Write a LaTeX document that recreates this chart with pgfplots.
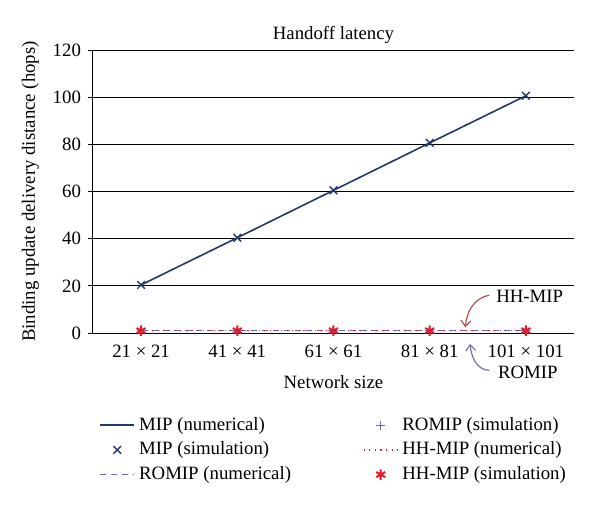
\documentclass[border=0pt]{standalone}
\usepackage{pgfplots}
\pgfplotsset{compat=1.18}
\usepackage{fontspec}
\setmainfont{Liberation Serif}
\usetikzlibrary{arrows.meta}
\definecolor{mipblue}{RGB}{34,58,102}
\definecolor{romip}{RGB}{112,106,160}
\definecolor{hhred}{RGB}{228,26,44}
\definecolor{arrred}{RGB}{178,84,84}
\definecolor{arrpur}{RGB}{122,112,170}
\newcommand\cf{\fontsize{9.4}{11.3}\selectfont}

\begin{document}
\begin{tikzpicture}
\path (-46.5pt,-86pt) rectangle (253.5pt,166.5pt);
\begin{axis}[
 scale only axis,
 width=240.5pt, height=141.5pt,
 xmin=-0.5, xmax=4.5,
 ymin=0, ymax=120,
 axis lines*=left,
 axis line style={black, line width=0.5pt},
 xtick={0,1,2,3,4},
 xticklabels={21 × 21, 41 × 41, 61 × 61, 81 × 81, 101 × 101},
 x tick style={draw=none},
 ytick={0,20,40,60,80,100,120},
 tick align=outside,
 major tick length=2.5pt,
 y tick style={black, line width=0.5pt},
 ymajorgrids,
 major grid style={black, line width=0.5pt},
 /pgf/number format/assume math mode=true,
 tick label style={font=\cf},
 label style={font=\cf},
 xlabel style={yshift=-2pt},
 title style={font=\cf, yshift=-6.5pt},
 title={Handoff latency},
 xlabel={Network size},
 ylabel={Binding update delivery distance (hops)},
 clip=false,
 legend columns=3,
 transpose legend,
 legend cell align={left},
 legend style={draw=none, fill=none, font=\cf, at={(axis description cs:0,-0.268)}, anchor=north west,
   row sep=0.3pt, /tikz/every even column/.append style={column sep=34pt}},
]
\addplot[mipblue, line width=0.8pt] coordinates {(0,20.4) (1,40.4) (2,60.5) (3,80.6) (4,100.6)};
\addlegendentry{MIP (numerical)}
\addplot[only marks, mark=x, mipblue, mark size=2.7pt, mark options={line width=0.7pt}] coordinates {(0,20.4) (1,40.4) (2,60.5) (3,80.6) (4,100.6)};
\addlegendentry{MIP (simulation)}
\addplot[romip, line width=0.6pt, dash pattern=on 3pt off 2.5pt] coordinates {(0,1) (1,1) (2,1) (3,1) (4,1)};
\addlegendentry{ROMIP (numerical)}
\addplot[only marks, mark=+, romip, mark size=2.2pt, mark options={line width=0.6pt}] coordinates {(0,1) (1,1) (2,1) (3,1) (4,1)};
\addlegendentry{ROMIP (simulation)}
\addplot[hhred, line width=0.6pt, dash pattern=on 0.6pt off 2.2pt] coordinates {(0,1) (1,1) (2,1) (3,1) (4,1)};
\addlegendentry{HH-MIP (numerical)}
\addplot[only marks, mark=asterisk, hhred, mark size=2.6pt, mark options={line width=1pt}] coordinates {(0,1) (1,1) (2,1) (3,1) (4,1)};
\addlegendentry{HH-MIP (simulation)}

\node[font=\cf] at (axis cs:4.04,15.7) {HH-MIP};
\node[font=\cf] at (axis cs:4.02,-16.5) {ROMIP};
\draw[arrred, line width=0.6pt, -{Straight Barb[length=3pt,width=5pt]}] (axis cs:3.62,16) to[out=190,in=85] (axis cs:3.37,2.4);
\draw[arrpur, line width=0.6pt, -{Straight Barb[length=3pt,width=5pt]}] (axis cs:3.62,-15.8) to[out=180,in=-85] (axis cs:3.42,-4.6);
\end{axis}
\end{tikzpicture}
\end{document}
